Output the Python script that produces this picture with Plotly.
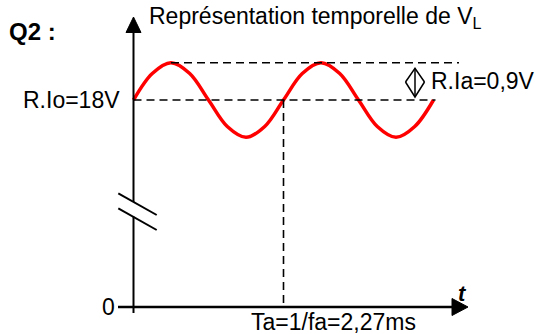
import plotly.graph_objects as go

# ---------------- data ----------------
Ta_ms = 2.27          # period of the ripple (ms)
V_dc = 18.0           # R.Io (V)
V_amp = 0.9           # R.Ia (V)

# samples of V_L read every eighth of a period (two periods shown)
t_ms = [0.0, 0.284, 0.5675, 0.851, 1.135, 1.419, 1.7025, 1.986, 2.27,
        2.554, 2.8375, 3.121, 3.405, 3.689, 3.9725, 4.256, 4.54]
v_L = [18.0, 18.64, 18.9, 18.64, 18.0, 17.36, 17.1, 17.36, 18.0,
       18.64, 18.9, 18.64, 18.0, 17.36, 17.1, 17.36, 18.0]

title_text = "Représentation temporelle de V<sub>L</sub>"
question_label = "Q2 :"
dc_label = "R.Io=18V"
amp_label = "R.Ia=0,9V"
period_label = "Ta=1/fa=2,27ms"
zero_label = "0"
t_label = "t"

# ---------------- scale setup ----------------
W, H = 537, 334
PX_PER_MS = 150 / Ta_ms
PX_PER_V = 37.3 / V_amp
X0_PX = 133.5
YDC_PX = 100.0
x_range = [-X0_PX / PX_PER_MS, (W - X0_PX) / PX_PER_MS]
y_range = [V_dc - (H - YDC_PX) / PX_PER_V, V_dc + YDC_PX / PX_PER_V]


def dx(p):
    return p / PX_PER_MS


def dy(p):
    return p / PX_PER_V


Y_ZERO = V_dc - dy(207)          # where 0 V sits, below the axis break
Y_TOP = V_dc + dy(83)            # tip of the vertical arrow
X_TIP = dx(334.5)                # tip of the horizontal arrow
T_END = 2 * Ta_ms

BLACK = "#000000"
RED = "#ff0000"
FONT = "Liberation Sans, Arial, sans-serif"

fig = go.Figure()

# ripple
fig.add_trace(go.Scatter(
    x=t_ms, y=v_L, mode="lines",
    line=dict(color=RED, width=3.5, shape="spline", smoothing=1.0),
    hoverinfo="skip", showlegend=False))

shapes = []


def line(x0, y0, x1, y1, width=2, dash=None, color=BLACK):
    d = dict(type="line", xref="x", yref="y", x0=x0, y0=y0, x1=x1, y1=y1,
             line=dict(color=color, width=width))
    if dash:
        d["line"]["dash"] = dash
    shapes.append(d)


def path(pts, fill=True, width=1.5):
    s = "M " + " L ".join(f"{a},{b}" for a, b in pts)
    if fill:
        s += " Z"
    shapes.append(dict(type="path", xref="x", yref="y", path=s,
                       fillcolor=BLACK if fill else "rgba(0,0,0,0)",
                       line=dict(color=BLACK, width=width if not fill else 1)))


DASH = "8px,5px"
# dashed guides
line(Ta_ms / 4, V_dc + V_amp, T_END + dx(25.5), V_dc + V_amp, 1.6, DASH)
line(0, V_dc, T_END + dx(2), V_dc, 1.6, DASH)
line(Ta_ms, V_dc, Ta_ms, Y_ZERO, 1.6, DASH)

# horizontal axis
line(-dx(15.5), Y_ZERO, X_TIP - dx(14), Y_ZERO, 2.5)
path([(X_TIP, Y_ZERO), (X_TIP - dx(16), Y_ZERO + dy(8.5)),
      (X_TIP - dx(16), Y_ZERO - dy(8.5))])

# vertical axis with break
line(0, Y_ZERO - dy(6), 0, Y_ZERO + dy(90.5), 2)
line(0, Y_ZERO + dy(105), 0, Y_TOP - dy(14), 2)
path([(0, Y_TOP), (-dx(7.5), Y_TOP - dy(15.5)), (dx(7.5), Y_TOP - dy(15.5))])
line(-dx(15.2), Y_ZERO + dy(113.7), dx(23.2), Y_ZERO + dy(92), 2)
line(-dx(15.2), Y_ZERO + dy(98.7), dx(23.2), Y_ZERO + dy(77), 2)

# amplitude double arrow
AMP_X = T_END - dx(18.5)
a_top = V_dc + V_amp - dy(5.5)
a_bot = V_dc + dy(3)
a_mid = V_dc + dy(18)
line(AMP_X, a_bot, AMP_X, a_top, 1.5)
path([(AMP_X - dx(9.5), a_mid), (AMP_X, a_top), (AMP_X + dx(9.5), a_mid)], fill=False)
path([(AMP_X - dx(9.5), a_mid), (AMP_X, a_bot), (AMP_X + dx(9.5), a_mid)], fill=False)

ann = []
F = dict(family=FONT, size=23, color=BLACK)
ann.append(dict(x=7 / W, y=1 - 31 / H, xref="paper", yref="paper", text=f"<b>{question_label}</b>",
                xanchor="left", yanchor="middle", showarrow=False,
                font=dict(family=FONT, size=24, color=BLACK)))
ann.append(dict(x=0, y=Y_TOP, xref="x", yref="y", text=title_text, xanchor="left",
                yanchor="middle", xshift=13, yshift=0, showarrow=False, font=F))
ann.append(dict(x=0, y=V_dc, xref="x", yref="y", text=dc_label, xanchor="right",
                yanchor="middle", xshift=-12, showarrow=False, font=F))
ann.append(dict(x=AMP_X, y=V_dc + V_amp / 2, xref="x", yref="y", text=amp_label,
                xanchor="left", yanchor="middle", xshift=14, showarrow=False, font=F))
ann.append(dict(x=Ta_ms, y=Y_ZERO, xref="x", yref="y", text=period_label,
                xanchor="left", yanchor="top", xshift=-35, yshift=0, showarrow=False, font=F))
ann.append(dict(x=0, y=Y_ZERO, xref="x", yref="y", text=zero_label,
                xanchor="right", yanchor="middle", xshift=-17, showarrow=False, font=F))
ann.append(dict(x=X_TIP, y=Y_ZERO, xref="x", yref="y", text=f"<b><i>{t_label}</i></b>",
                xanchor="center", yanchor="middle", xshift=-6, yshift=14, showarrow=False,
                font=dict(family=FONT, size=22, color=BLACK)))

fig.update_layout(
    width=W, height=H, margin=dict(l=0, r=0, t=0, b=0),
    paper_bgcolor="white", plot_bgcolor="white",
    xaxis=dict(range=x_range, visible=False, fixedrange=True),
    yaxis=dict(range=y_range, visible=False, fixedrange=True),
    shapes=shapes, annotations=ann, showlegend=False)

fig.write_html("out.html", config={"displayModeBar": False, "staticPlot": True},
               post_script="document.body.style.margin='0px';document.body.style.overflow='hidden';")
